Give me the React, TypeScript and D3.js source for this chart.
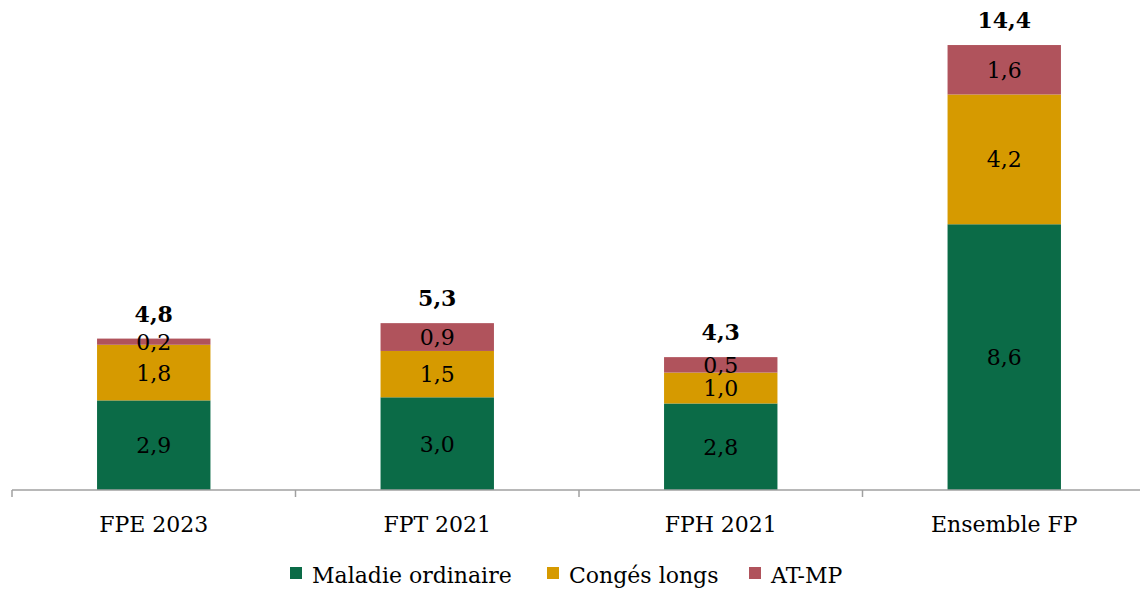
import React from "react";
import * as d3 from "d3";

const categories = ["FPE 2023", "FPT 2021", "FPH 2021", "Ensemble FP"];
const seriesNames = ["Maladie ordinaire", "Congés longs", "AT-MP"];
const maladie = [2.9, 3.0, 2.8, 8.6];
const conges = [1.8, 1.5, 1.0, 4.2];
const atmp = [0.2, 0.9, 0.5, 1.6];
const totals = [4.8, 5.3, 4.3, 14.4];
const colors = ["#0b6b47", "#d69a00", "#b0535c"];

const W = 1140;
const H = 589;
const FONT = "'DejaVu Serif', serif";
const FS = 22;

const fmt = (v: number) => v.toFixed(1).replace(".", ",");

export default function App() {
  const x = d3.scaleBand<string>().domain(categories).range([12, 1146]).paddingInner(0).paddingOuter(0);
  const y = d3.scaleLinear().domain([0, 16]).range([490, 490 - 16 * 30.9]);
  const barW = x.bandwidth() * 0.4;

  const rows = categories.map((c, i) => ({ cat: c, m: maladie[i], c: conges[i], a: atmp[i] }));
  const stack = d3.stack<any>().keys(["m", "c", "a"])(rows);

  const legendItems = [
    { x: 290, name: seriesNames[0], color: colors[0] },
    { x: 547, name: seriesNames[1], color: colors[1] },
    { x: 749, name: seriesNames[2], color: colors[2] },
  ];

  return (
    <svg width={W} height={H} style={{ position: "absolute", left: 0, top: 0, background: "#fff" }} fontFamily={FONT}>
      {stack.map((s, si) =>
        s.map((d, i) => {
          const cx = (x(categories[i]) as number) + x.bandwidth() / 2;
          const y0 = y(d[0]);
          const y1 = y(d[1]);
          return (
            <g key={`${si}-${i}`}>
              <rect x={cx - barW / 2} y={y1} width={barW} height={y0 - y1} fill={colors[si]} />
              <text x={cx} y={(y0 + y1) / 2 + 8} textAnchor="middle" fontSize={FS} fill="#000">
                {fmt(d[1] - d[0])}
              </text>
            </g>
          );
        })
      )}
      {categories.map((c, i) => {
        const cx = (x(c) as number) + x.bandwidth() / 2;
        const top = y(stack[2][i][1]);
        return (
          <text key={c} x={cx} y={top - 17} textAnchor="middle" fontSize={FS} fontWeight="bold" fill="#000">
            {fmt(totals[i])}
          </text>
        );
      })}
      <line x1={12} x2={W} y1={490} y2={490} stroke="#a0a0a0" strokeWidth={1.5} />
      {[...categories.map((c) => x(c) as number), 1146].map((t, i) => (
        <line key={i} x1={t} x2={t} y1={490} y2={497} stroke="#a0a0a0" strokeWidth={1.5} />
      ))}
      {categories.map((c) => (
        <text key={c} x={(x(c) as number) + x.bandwidth() / 2} y={532} textAnchor="middle" fontSize={FS} fill="#000">
          {c}
        </text>
      ))}
      {legendItems.map((l) => (
        <g key={l.name}>
          <rect x={l.x} y={567} width={12} height={12} fill={l.color} />
          <text x={l.x + 22} y={583} fontSize={FS} fill="#000">
            {l.name}
          </text>
        </g>
      ))}
    </svg>
  );
}
